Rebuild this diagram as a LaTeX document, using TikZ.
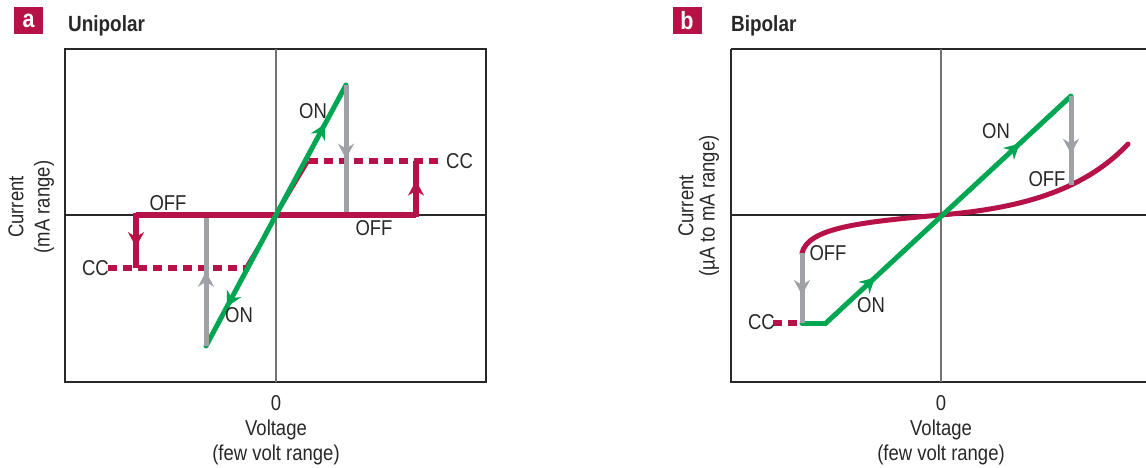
\documentclass[tikz,border=0pt]{standalone}
\usepackage{fontspec}
\setmainfont{Liberation Sans}[FakeStretch=0.86]
\usetikzlibrary{arrows.meta,positioning,decorations.markings}
\definecolor{crimson}{RGB}{183, 18, 72}
\definecolor{leafgreen}{RGB}{0, 166, 81}
\definecolor{steelgray}{RGB}{160, 161, 166}
\definecolor{inkgray}{RGB}{40, 40, 40}
\newcommand{\headtip}{\arrow{Stealth[length=15pt, width=16pt, inset=5pt]}}
\tikzstyle{frame} = [draw=inkgray, line width=1.3pt]
\tikzstyle{vaxis} = [draw=black!55, line width=1.3pt]
\tikzstyle{haxis} = [draw=inkgray, line width=1.4pt]
\tikzstyle{onpath} = [draw=leafgreen, line width=5pt, line cap=round, line join=round]
\tikzstyle{offpath} = [draw=crimson, line width=5.5pt, line join=miter]
\tikzstyle{thinoff} = [draw=crimson, line width=2.5pt]
\tikzstyle{ccdash} = [draw=crimson, line width=5.5pt, dash pattern=on 9pt off 6pt]
\tikzstyle{switch} = [draw=steelgray, line width=5pt]
\tikzstyle{lbl} = [text=inkgray, inner sep=0pt, font=\fontsize{21.5}{23}\selectfont]
\tikzstyle{panel} = [fill=crimson, text=white, inner sep=0pt, minimum width=29pt, minimum height=27pt, font=\bfseries\fontsize{25}{26}\selectfont]
\tikzstyle{paneltitle} = [text=inkgray, inner sep=0pt, anchor=base west, font=\bfseries\fontsize{22}{24}\selectfont]
\tikzset{midarrow/.style={postaction={decorate}, decoration={markings, mark=at position #1 with {\headtip}}},
  twoarrows/.style 2 args={postaction={decorate}, decoration={markings, mark=at position #1 with {\headtip}, mark=at position #2 with {\headtip}}}}
\begin{document}
\begin{tikzpicture}[x=1pt, y=-1pt]
\useasboundingbox (0,0) rectangle (1146,468);

% Unipolar panel =============================
\node[panel] (taga) at (28.5,20.5) {a};
\node[paneltitle] (titlea) at (68,32) {Unipolar};

\draw[frame] (65,49) rectangle (486,382);
\coordinate (oa) at (276,215);
\draw[vaxis] (276,49) -- (276,382);
\draw[haxis] (65,215) -- (486,215);

% points on the loop
\coordinate (ontop) at (346,85);
\coordinate (onbot) at (206,346);
\coordinate (ccright) at (309,161);
\coordinate (ccleft) at (245,268);

% off / compliance branch
\draw[thinoff] (ccleft) -- (ccright);
\draw[ccdash] (ccright) -- (443,161);
\draw[ccdash] (108,268) -- (ccleft);
\draw[offpath] (136,215) -- (416,215);
\draw[offpath, midarrow=0.65] (416,217) -- (416,161);
\draw[offpath, midarrow=0.62] (136,213) -- (136,268);

% on branch
\draw[onpath, midarrow=0.7] (oa) -- (ontop);
\draw[onpath, midarrow=0.7] (oa) -- (onbot);

% switching
\draw[switch, midarrow=0.58] (ontop) -- (346,212);
\draw[switch, midarrow=0.58] (onbot) -- (206,218);

% labels
\node[lbl] (offa1) at (168,203) {OFF};
\node[lbl] (offa2) at (374,228) {OFF};
\node[lbl] (ona1) at (313,111) {ON};
\node[lbl] (ona2) at (239,315) {ON};
\node[lbl, anchor=west] (cca1) at (446,161) {CC};
\node[lbl, anchor=east] (cca2) at (109,268) {CC};

\node[lbl] (zeroa) at (276,403) {0};
\node[lbl, anchor=base] (volta) at (276,435) {Voltage};
\node[lbl, anchor=base] (rangea) at (276,460) {(few volt range)};
\node[lbl, rotate=90] (cura) at (16,207) {Current};
\node[lbl, rotate=90] (unita) at (44,207) {(mA range)};

% Bipolar panel =============================
\node[panel] (tagb) at (687,20.5) {b};
\node[paneltitle] (titleb) at (731,32) {Bipolar};

\draw[frame] (731,49) -- (1160,49);
\draw[frame] (731,49) -- (731,382) -- (1160,382);
\coordinate (ob) at (941,215);
\draw[vaxis] (941,49) -- (941,382);
\draw[haxis] (731,215) -- (1160,215);

\coordinate (onend) at (1071,96);
\coordinate (offend) at (1071,185);
\coordinate (offstart) at (802,253);
\coordinate (ccb) at (802,323);
\coordinate (knee) at (826,323);

% off curve
\draw[thinoff, line width=5pt, line cap=round] (offstart) .. controls (808,228) and (860,222) .. (ob)
  .. controls (1010,209) and (1080,195) .. (1128,144);
\draw[ccdash] (773,323) -- (ccb);

% on line
\draw[onpath] (ccb) -- (knee);
\draw[onpath, twoarrows={0.2}{0.79}] (knee) -- (onend);

% switching
\draw[switch, midarrow=0.65] (onend) -- (offend);
\draw[switch, midarrow=0.6] (offstart) -- (ccb);

% labels
\node[lbl] (onb1) at (996,131) {ON};
\node[lbl] (offb1) at (1047,179) {OFF};
\node[lbl] (offb2) at (828,253) {OFF};
\node[lbl] (onb2) at (871,305) {ON};
\node[lbl, anchor=east] (ccblbl) at (775,322) {CC};

\node[lbl] (zerob) at (941,403) {0};
\node[lbl, anchor=base] (voltb) at (941,435) {Voltage};
\node[lbl, anchor=base] (rangeb) at (941,460) {(few volt range)};
\node[lbl, rotate=90] (curb) at (686,206) {Current};
\node[lbl, rotate=90] (unitb) at (709,206) {(µA to mA range)};

\end{tikzpicture}
\end{document}
